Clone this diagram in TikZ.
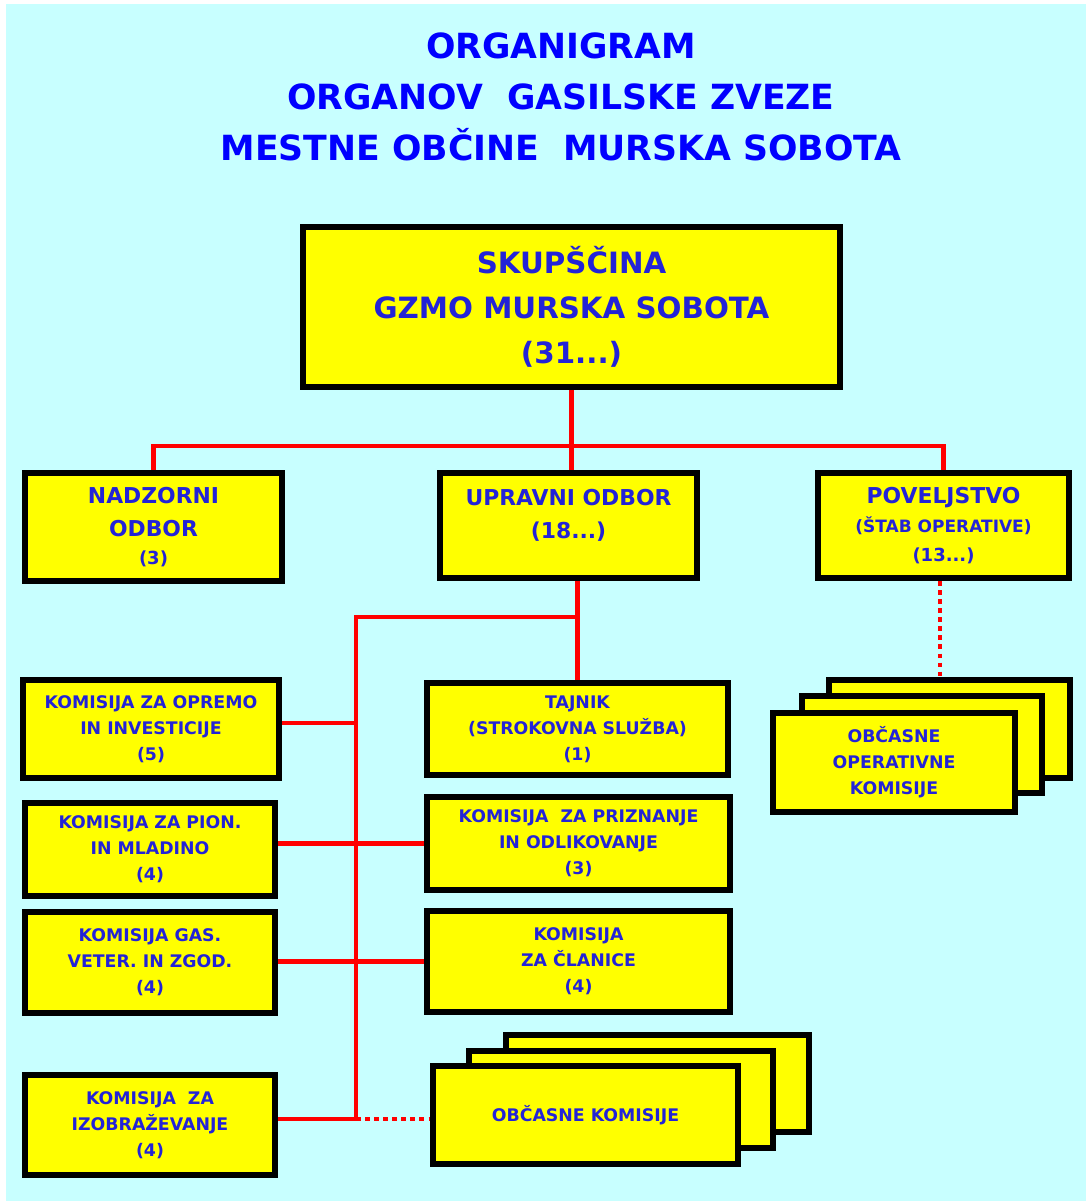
\documentclass[tikz,border=0pt]{standalone}
\usepackage{fontspec}
\setmainfont{DejaVu Sans}
\definecolor{bgcyan}{RGB}{200,255,255}
\definecolor{boxyellow}{RGB}{255,255,0}
\definecolor{titleblue}{RGB}{0,0,255}
\definecolor{textblue}{RGB}{35,35,215}
\pgfdeclarelayer{bglayer}
\pgfdeclarelayer{linelayer}
\pgfsetlayers{bglayer,linelayer,main}
\begin{document}
\begin{tikzpicture}[x=0.75pt,y=-0.75pt,
  box/.style={draw=black, fill=boxyellow, line width=4.5pt, inner sep=0pt,
    text=textblue, align=center, font=\bfseries\fontsize{13}{19.5}\selectfont},
  sz/.style 2 args={minimum width={#1*0.75pt}, minimum height={#2*0.75pt}},
  bigtext/.style={font=\bfseries\fontsize{22}{33.75}\selectfont},
  midtext/.style={font=\bfseries\fontsize{16.4}{24.75}\selectfont},
  conn/.style={draw=red, line width=3.6pt},
  dotline/.style={draw=red, line width=3.6pt, dash pattern=on 3.4pt off 3.4pt},
  titletext/.style={text=titleblue, align=center, font=\bfseries\fontsize{26}{38}\selectfont}
]
\useasboundingbox (0,0) rectangle (1086,1203);
\begin{pgfonlayer}{bglayer}
  \fill[white] (0,0) rectangle (1086,1203);
  \fill[bgcyan] (6,4) rectangle (1086,1201);
\end{pgfonlayer}

% title
\node[titletext] (title) at (561,97) {ORGANIGRAM\\ORGANOV\ \ GASILSKE ZVEZE\\MESTNE OBČINE\ \ MURSKA SOBOTA};

% top box
\node[box, bigtext, sz={537}{160}] (sku) at (571.5,307) {SKUPŠČINA\\GZMO MURSKA SOBOTA\\(31...)};

% second row
\node[box, midtext, sz={257}{108}] (nad) at (153.5,527) {NADZORNI\\ODBOR\\[-4pt]{\fontsize{13.5}{15}\selectfont (3)}};
\node[box, midtext, sz={257}{105}] (upr) at (568.5,525.5) {UPRAVNI ODBOR\\(18...)\\[-8pt]\mbox{}};
\node[box, midtext, sz={251}{105}] (pov) at (943.5,525.5) {POVELJSTVO\\[-3pt]{\fontsize{12.75}{15}\selectfont (ŠTAB OPERATIVE)}\\[-3pt]{\fontsize{13.5}{15}\selectfont (13...)}};

% left column
\node[box, sz={256}{98}] (opr) at (151,729) {KOMISIJA ZA OPREMO\\IN INVESTICIJE\\(5)};
\node[box, sz={250}{93}] (pio) at (150,849.5) {KOMISIJA ZA PION.\\IN MLADINO\\(4)};
\node[box, sz={250}{101}] (gas) at (150,962.5) {KOMISIJA GAS.\\VETER. IN ZGOD.\\(4)};
\node[box, sz={250}{100}] (izo) at (150,1125) {KOMISIJA\ \ ZA\\IZOBRAŽEVANJE\\(4)};

% right column
\node[box, sz={301}{92}] (taj) at (577.5,729) {TAJNIK\\(STROKOVNA SLUŽBA)\\(1)};
\node[box, sz={303}{93}] (pri) at (578.5,843.5) {KOMISIJA\ \ ZA PRIZNANJE\\IN ODLIKOVANJE\\(3)};
\node[box, sz={303}{101}] (cla) at (578.5,961.5) {KOMISIJA\\ZA ČLANICE\\(4)};

% stacked occasional commissions
\node[box, sz={303}{97}] (obkC) at (657.5,1083.5) {};
\node[box, sz={304}{97}] (obkB) at (621,1099.5) {};
\node[box, sz={305}{98}] (obk) at (585.5,1115) {OBČASNE KOMISIJE};

\node[box, sz={241}{98}] (oopC) at (949.5,729) {};
\node[box, sz={240}{97}] (oopB) at (922,744.5) {};
\node[box, sz={242}{99}] (oop) at (894,762.5) {OBČASNE\\OPERATIVNE\\KOMISIJE};

% connectors
\coordinate (bar) at (570,446);
\coordinate (busT) at (356,617);
\coordinate (busB) at (356,1119);
\coordinate (opJ) at (356,723);
\coordinate (dp) at (940,600);
\begin{pgfonlayer}{linelayer}
  \draw[conn] (sku.south) -- (sku.south |- upr.north);
  \draw[conn] (nad.north) -- (nad.north |- bar) -- (pov.north |- bar) -- (pov.north);
  \draw[conn] (taj.north |- upr.south) -- (taj.north);
  \draw[conn] (taj.north |- busT) -- (busT) -- (busB) -- (izo.east |- busB);
  \draw[conn] (opr.east |- opJ) -- (opJ);
  \draw[conn] (pio.east |- pri.west) -- (pri.west);
  \draw[conn] (gas.east |- cla.west) -- (cla.west);
  \draw[dotline] (busB) -- (obk.west |- busB);
  \draw[dotline] (pov.south -| dp) -- (oopC.north -| dp);
\end{pgfonlayer}
\end{tikzpicture}
\end{document}
